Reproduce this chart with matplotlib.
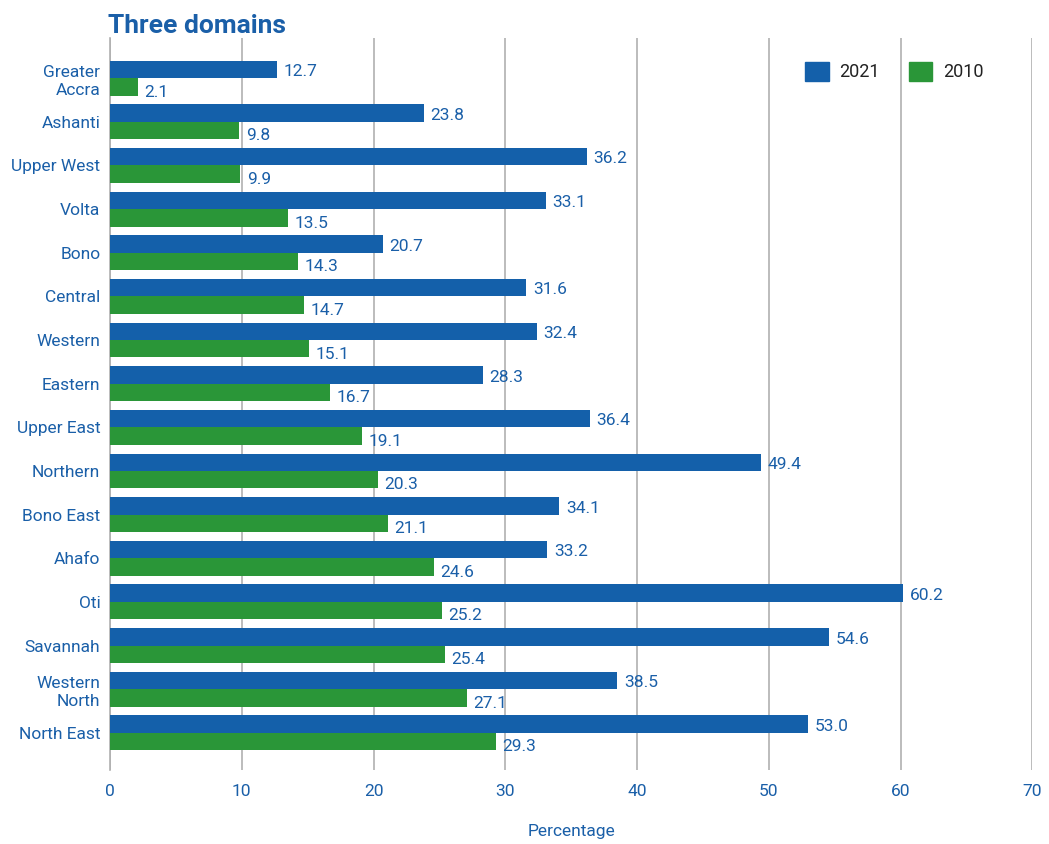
import numpy as np
import matplotlib.pyplot as plt
from matplotlib.patches import Patch

plt.rcParams['font.family'] = ['Roboto', 'DejaVu Sans']

regions = ['Greater\nAccra', 'Ashanti', 'Upper West', 'Volta', 'Bono', 'Central',
           'Western', 'Eastern', 'Upper East', 'Northern', 'Bono East', 'Ahafo',
           'Oti', 'Savannah', 'Western\nNorth', 'North East']
vals_2021 = [12.7, 23.8, 36.2, 33.1, 20.7, 31.6, 32.4, 28.3, 36.4, 49.4, 34.1, 33.2,
             60.2, 54.6, 38.5, 53.0]
vals_2010 = [2.1, 9.8, 9.9, 13.5, 14.3, 14.7, 15.1, 16.7, 19.1, 20.3, 21.1, 24.6,
             25.2, 25.4, 27.1, 29.3]
xticks = [0, 10, 20, 30, 40, 50, 60, 70]

blue = '#1460aa'
green = '#2a9638'
txt = '#1a5fa8'

fig = plt.figure(figsize=(10.49, 8.44), dpi=100)
ax = fig.add_axes([0.1049, 0.0877, 0.8792, 0.8673])

y = np.arange(len(regions))
h = 0.4
ax.barh(y - h/2, vals_2021, height=h, color=blue, zorder=3)
ax.barh(y + h/2, vals_2010, height=h, color=green, zorder=3)

# value labels
for yi, v in zip(y, vals_2021):
    ax.text(v + 0.5, yi - h/2 + 0.05, '%.1f' % v, color=txt, fontsize=12.5, va='center', ha='left')
for yi, v in zip(y, vals_2010):
    ax.text(v + 0.5, yi + h/2 + 0.12, '%.1f' % v, color=txt, fontsize=12.5, va='center', ha='left')

ax.set_xlim(0, 70)
ax.set_ylim(len(regions) - 1 + 0.85, -0.92)
ax.set_yticks(y)
ax.set_yticklabels(regions, color=txt, fontsize=12.5, linespacing=1.3)
ax.set_xticks(xticks)
ax.set_xticklabels([str(t) for t in xticks], color=txt, fontsize=12.5)
for lab in ax.get_xticklabels():
    lab.set_x(lab.get_position()[0])
ax.tick_params(axis='y', length=0, pad=7)
ax.tick_params(axis='x', length=0, pad=10)
ax.grid(axis='x', color='#b0b0b0', linewidth=1.2, zorder=0)
for s in ['top', 'right', 'bottom']:
    ax.spines[s].set_visible(False)
ax.spines['left'].set_color('#b0b0b0')
ax.spines['left'].set_linewidth(1.2)

ax.set_xlabel('Percentage', color=txt, fontsize=12.5, labelpad=18)
fig.text(0.103, 0.955, 'Three domains', color=txt, fontsize=19, fontweight='bold', va='bottom', ha='left')

handles = [Patch(color=blue, label='2021'), Patch(color=green, label='2010')]
ax.legend(handles=handles, ncol=2, frameon=False, loc='upper right',
          bbox_to_anchor=(0.965, 0.99), fontsize=13, handlelength=1.3, handleheight=1.3,
          columnspacing=1.6, handletextpad=0.6, labelcolor='#222222')

fig.savefig('out.png', dpi=100)
